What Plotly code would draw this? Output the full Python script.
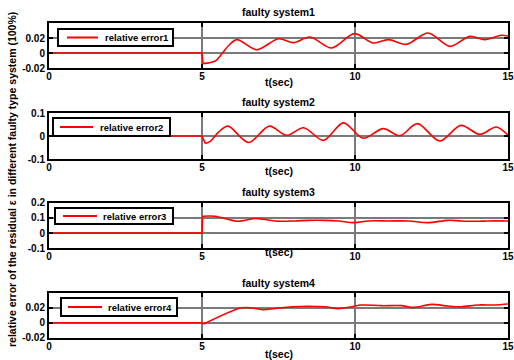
import plotly.graph_objects as go

# ---- data ----
t1 = [0, 5.0, 5.03, 5.43, 5.65, 5.87, 6.14, 6.79, 7.5, 7.99, 8.53, 9.24, 9.98, 10.6, 11.09, 11.68, 12.39, 13.1, 13.75, 14.24, 14.78, 15.0]
e1 = [0, 0, -0.0142, -0.0107, -0.001, 0.010, 0.0178, 0.0044, 0.019, 0.0138, 0.0213, 0.0067, 0.0258, 0.0133, 0.0178, 0.0116, 0.0267, 0.0089, 0.0222, 0.0178, 0.0236, 0.0227]

t2 = [0, 5.0, 5.11, 5.28, 5.54, 5.85, 6.52, 7.2, 7.77, 8.32, 8.97, 9.62, 10.27, 10.92, 11.47, 12.04, 12.77, 13.46, 14.08, 14.62, 15.0]
e2 = [0, 0, -0.033, -0.022, 0.017, 0.043, -0.028, 0.043, 0.003, 0.036, -0.019, 0.057, -0.010, 0.032, 0.0015, 0.054, -0.022, 0.046, 0.007, 0.039, 0.003]

t3 = [0, 5.0, 5.02, 5.43, 5.87, 6.14, 6.41, 6.74, 7.07, 7.5, 8.04, 8.48, 9.02, 9.46, 9.98, 10.43, 11.09, 11.74, 12.39, 13.04, 13.48, 14.02, 14.35, 15.0]
e3 = [0, 0, 0.111, 0.111, 0.089, 0.078, 0.084, 0.096, 0.089, 0.078, 0.080, 0.084, 0.084, 0.080, 0.069, 0.080, 0.080, 0.080, 0.069, 0.084, 0.080, 0.078, 0.080, 0.080]

t4 = [0, 5.0, 5.05, 6.3, 6.63, 7.01, 7.39, 7.93, 8.48, 9.02, 9.46, 9.89, 10.2, 10.87, 11.52, 11.9, 12.5, 13.04, 13.47, 14.02, 14.57, 15.0]
e4 = [0, 0, -0.0018, 0.020, 0.0196, 0.0173, 0.019, 0.0213, 0.022, 0.0213, 0.0187, 0.0213, 0.0236, 0.0227, 0.0227, 0.0204, 0.0244, 0.0222, 0.0213, 0.0236, 0.0236, 0.0249]

names = ["relative error1", "relative error2", "relative error3", "relative error4"]
titles = ["faulty system1", "faulty system2", "faulty system3", "faulty system4"]
xticks = [0, 5, 10, 15]
yranges = [[-0.02, 0.04], [-0.1, 0.1], [-0.1, 0.2], [-0.02, 0.04]]
yticks = [[-0.02, 0, 0.02], [-0.1, 0, 0.1], [-0.1, 0, 0.1, 0.2], [-0.02, 0, 0.02]]
ytext = [["-0.02", "0", "0.02"], ["-0.1", "0", "0.1"], ["-0.1", "0", "0.1", "0.2"], ["-0.02", "0", "0.02"]]
ylabel = "relative error of the residual \u03b5 in different faulty type system (100%)"

# ---- layout geometry (pixels) ----
W, H = 514, 360
xl, xr = 49, 508
panels = [(23, 68), (113, 159), (202.7, 248.3), (292.7, 337.7)]   # top, bottom px
title_y = [12, 102, 192, 283]
xlab_y = [82, 171, 252, 354]
# legend boxes: x0, x1, y0, y1, line x0, line x1, text x
legend_box = [(58, 173, 29, 46, 67, 98, 103),
              (53, 170, 118, 136, 60, 93, 98),
              (55, 173, 208, 224, 63, 97, 101),
              (61, 177, 298, 316, 68, 102, 106)]

FONT = "Liberation Sans, Arial, sans-serif"
RED = "#ff0000"
data = [(t1, e1), (t2, e2), (t3, e3), (t4, e4)]

fig = go.Figure()
layout = dict(
    width=W, height=H, margin=dict(l=0, r=0, t=0, b=0),
    paper_bgcolor="white", plot_bgcolor="white", showlegend=False,
    font=dict(family=FONT, size=10, color="black", weight="bold"),
    annotations=[], shapes=[],
)

def px(x):
    return x / W

def py(y):
    return 1 - y / H

for i, (t, e) in enumerate(data):
    n = "" if i == 0 else str(i + 1)
    # pre-fault part (flat, then the jump at t = 5)
    fig.add_trace(go.Scatter(
        x=t[:3], y=e[:3], mode="lines", name=names[i],
        line=dict(color=RED, width=1.6),
        xaxis="x" + n, yaxis="y" + n,
    ))
    # post-fault part (smooth oscillation)
    fig.add_trace(go.Scatter(
        x=t[2:], y=e[2:], mode="lines", name=names[i],
        line=dict(color=RED, width=1.6, shape="spline", smoothing=0.9),
        xaxis="x" + n, yaxis="y" + n,
    ))
    top, bot = panels[i]
    layout["xaxis" + n] = dict(
        domain=[px(xl), px(xr)], range=[0, 15], anchor="y" + n,
        tickvals=xticks, ticks="inside", ticklen=4, tickwidth=1.5, tickcolor="black",
        showgrid=True, gridcolor="#7a7a7a", gridwidth=1.5,
        showline=True, linecolor="black", linewidth=2, mirror="ticks",
        zeroline=False, automargin=False, ticklabelstandoff=-2,
        tickfont=dict(family=FONT, size=10, color="black", weight="bold"),
    )
    layout["yaxis" + n] = dict(
        domain=[py(bot), py(top)], range=yranges[i], anchor="x" + n,
        tickvals=yticks[i], ticktext=ytext[i], ticks="inside", ticklen=4, tickwidth=1.5, tickcolor="black",
        showgrid=True, gridcolor="#7a7a7a", gridwidth=1.5,
        showline=True, linecolor="black", linewidth=2, mirror="ticks",
        zeroline=False, automargin=False,
        tickfont=dict(family=FONT, size=10, color="black", weight="bold"),
    )
    # legend box
    bx0, bx1, by0, by1, lx0, lx1, tx = legend_box[i]
    yc = (by0 + by1) / 2
    layout["shapes"].append(dict(
        type="rect", xref="paper", yref="paper", x0=px(bx0), x1=px(bx1), y0=py(by1), y1=py(by0),
        line=dict(color="black", width=2), fillcolor="white", layer="above",
    ))
    layout["shapes"].append(dict(
        type="line", xref="paper", yref="paper", x0=px(lx0), x1=px(lx1), y0=py(yc), y1=py(yc),
        line=dict(color=RED, width=2), layer="above",
    ))
    layout["annotations"].append(dict(
        text=names[i], x=px(tx), y=py(yc), xref="paper", yref="paper",
        xanchor="left", yanchor="middle", showarrow=False,
        font=dict(family=FONT, size=9.5, color="black", weight="bold"),
    ))
    layout["annotations"].append(dict(
        text=titles[i], x=px((xl + xr) / 2), y=py(title_y[i]), xref="paper", yref="paper",
        xanchor="center", yanchor="middle", showarrow=False,
        font=dict(family=FONT, size=10.5, color="black", weight="bold"),
    ))
    layout["annotations"].append(dict(
        text="t(sec)", x=px((xl + xr) / 2), y=py(xlab_y[i]), xref="paper", yref="paper",
        xanchor="center", yanchor="middle", showarrow=False,
        font=dict(family=FONT, size=10.5, color="black", weight="bold"),
    ))

layout["annotations"].append(dict(
    text=ylabel, x=px(12), y=py(180), xref="paper", yref="paper",
    xanchor="center", yanchor="middle", textangle=-90, showarrow=False,
    font=dict(family=FONT, size=10.5, color="black", weight="bold"),
))

fig.update_layout(**layout)
fig.write_html("out.html")
